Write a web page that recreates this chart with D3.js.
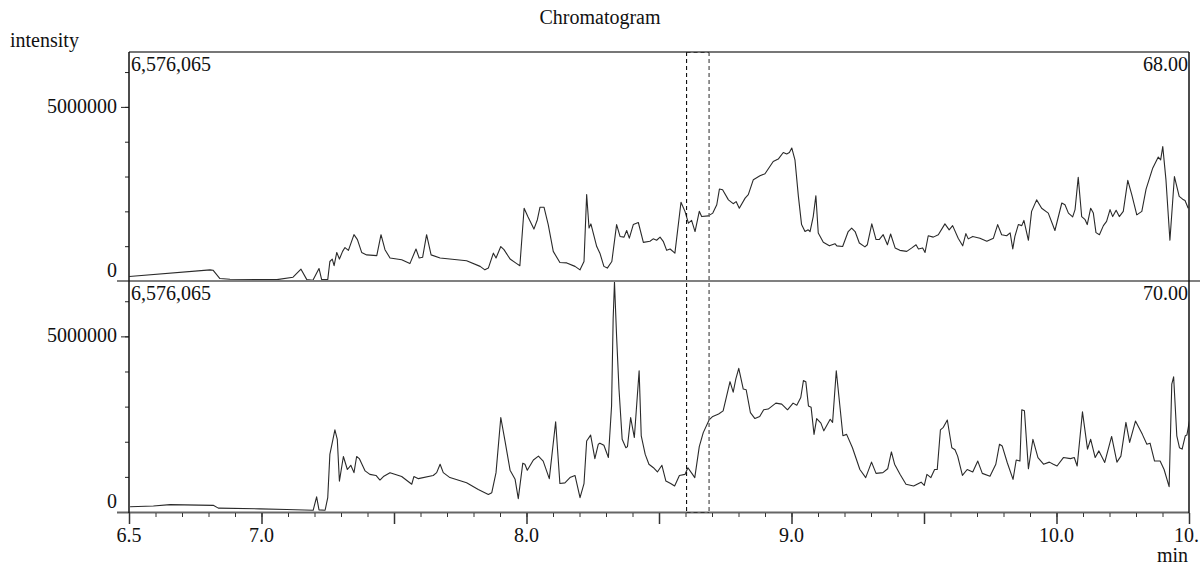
<!DOCTYPE html>
<html>
<head>
<meta charset="utf-8">
<script src="https://cdn.jsdelivr.net/npm/d3@7"></script>
<style>
  html, body { margin: 0; padding: 0; background: #fff; overflow: hidden; }
  svg { display: block; }
  text { font-family: "Liberation Serif", "Times New Roman", serif; fill: #111; }
</style>
</head>
<body>
<div id="chart"></div>
<script>
// retention time (min), intensity (millions of counts)
const topTrace = [[6.501,0.13],[6.806,0.32],[6.817,0.31],[6.843,0.07],[6.881,0.05],[7.058,0.04],[7.119,0.11],[7.149,0.34],[7.171,0.04],[7.194,0.02],[7.217,0.36],[7.227,0.04],[7.250,0.04],[7.258,0.56],[7.267,0.63],[7.274,0.44],[7.284,0.82],[7.294,0.63],[7.306,0.85],[7.315,0.96],[7.328,0.88],[7.349,1.33],[7.362,1.19],[7.378,0.82],[7.397,0.75],[7.435,0.73],[7.451,1.33],[7.466,0.90],[7.485,0.66],[7.529,0.61],[7.560,0.50],[7.583,0.92],[7.595,0.66],[7.608,0.68],[7.623,1.33],[7.640,0.75],[7.674,0.66],[7.774,0.58],[7.825,0.42],[7.843,0.32],[7.856,0.37],[7.875,0.80],[7.885,0.66],[7.903,0.99],[7.915,0.90],[7.938,0.63],[7.963,0.50],[7.975,0.44],[7.991,2.09],[8.005,1.85],[8.028,1.49],[8.041,1.76],[8.051,2.12],[8.066,2.12],[8.082,1.62],[8.101,0.85],[8.126,0.53],[8.152,0.52],[8.183,0.42],[8.202,0.32],[8.217,0.56],[8.227,2.48],[8.236,1.52],[8.243,1.64],[8.265,0.99],[8.277,0.80],[8.292,0.42],[8.305,0.37],[8.322,0.56],[8.340,1.62],[8.353,1.28],[8.368,1.26],[8.378,1.45],[8.388,1.23],[8.403,1.62],[8.422,1.68],[8.441,1.11],[8.466,1.14],[8.478,1.21],[8.491,1.17],[8.504,1.26],[8.516,1.14],[8.529,0.88],[8.542,0.92],[8.560,0.80],[8.583,2.26],[8.598,2.00],[8.611,1.66],[8.623,1.74],[8.636,1.42],[8.652,2.00],[8.661,1.85],[8.686,1.87],[8.703,1.95],[8.718,2.19],[8.728,2.64],[8.740,2.62],[8.762,2.33],[8.780,2.22],[8.791,2.28],[8.803,2.09],[8.825,2.38],[8.837,2.48],[8.856,2.91],[8.881,3.02],[8.900,3.08],[8.931,3.43],[8.950,3.50],[8.969,3.69],[8.982,3.65],[8.992,3.69],[9.001,3.82],[9.013,3.48],[9.026,2.43],[9.038,1.62],[9.051,1.42],[9.063,1.47],[9.070,1.42],[9.082,1.85],[9.092,2.45],[9.101,1.38],[9.120,1.11],[9.143,1.01],[9.164,1.07],[9.171,1.01],[9.193,0.99],[9.214,1.42],[9.227,1.52],[9.240,1.42],[9.256,1.09],[9.277,0.98],[9.286,1.04],[9.303,1.64],[9.319,1.19],[9.331,1.19],[9.346,1.33],[9.362,1.04],[9.374,1.35],[9.391,0.95],[9.409,0.88],[9.435,0.85],[9.454,0.95],[9.470,1.04],[9.479,0.92],[9.495,0.95],[9.504,0.82],[9.516,1.30],[9.535,1.26],[9.554,1.33],[9.579,1.64],[9.595,1.47],[9.608,1.59],[9.629,1.23],[9.646,1.01],[9.658,1.36],[9.667,1.21],[9.684,1.28],[9.711,1.23],[9.737,1.14],[9.762,1.23],[9.778,1.62],[9.793,1.33],[9.812,1.30],[9.825,1.38],[9.835,0.92],[9.843,1.28],[9.856,1.62],[9.869,1.59],[9.877,1.74],[9.894,1.17],[9.906,2.00],[9.925,2.33],[9.944,2.09],[9.969,1.95],[9.994,1.45],[10.020,2.24],[10.032,2.19],[10.045,1.95],[10.061,1.84],[10.070,2.05],[10.082,2.98],[10.095,1.85],[10.108,1.76],[10.116,1.62],[10.129,2.09],[10.139,1.95],[10.149,1.39],[10.162,1.33],[10.177,1.59],[10.189,1.71],[10.202,2.05],[10.212,1.85],[10.225,2.03],[10.237,1.85],[10.252,2.00],[10.269,2.89],[10.284,2.48],[10.303,1.90],[10.322,2.00],[10.338,2.64],[10.363,3.24],[10.384,3.56],[10.393,3.48],[10.401,3.86],[10.413,2.91],[10.428,1.17],[10.445,3.00],[10.463,2.43],[10.476,2.35],[10.485,2.31],[10.497,2.09]];

const bottomTrace = [[6.504,0.15],[6.592,0.17],[6.655,0.21],[6.818,0.19],[6.837,0.11],[6.994,0.09],[7.095,0.07],[7.195,0.05],[7.208,0.43],[7.217,0.06],[7.240,0.05],[7.250,0.41],[7.258,1.64],[7.277,2.34],[7.286,2.07],[7.294,0.88],[7.309,1.58],[7.324,1.21],[7.337,1.33],[7.349,1.12],[7.359,1.58],[7.369,1.52],[7.391,1.17],[7.409,1.07],[7.432,1.04],[7.447,0.91],[7.460,1.01],[7.485,1.12],[7.529,1.01],[7.567,0.79],[7.575,1.01],[7.592,0.95],[7.648,1.04],[7.661,1.12],[7.674,1.36],[7.686,1.12],[7.711,0.98],[7.774,0.83],[7.818,0.64],[7.856,0.50],[7.869,0.55],[7.885,1.12],[7.903,2.69],[7.919,2.02],[7.938,1.19],[7.957,0.93],[7.969,0.38],[7.986,1.39],[7.994,1.36],[8.003,1.19],[8.026,1.48],[8.045,1.59],[8.063,1.45],[8.086,0.95],[8.110,2.57],[8.126,0.81],[8.145,0.83],[8.164,0.98],[8.183,1.04],[8.202,0.41],[8.217,0.81],[8.227,2.02],[8.242,2.19],[8.258,1.52],[8.271,1.93],[8.277,1.96],[8.292,1.90],[8.309,1.55],[8.321,3.02],[8.327,5.50],[8.332,6.55],[8.340,5.00],[8.349,3.50],[8.361,2.07],[8.375,1.83],[8.381,1.86],[8.393,2.69],[8.407,2.12],[8.425,4.02],[8.433,2.17],[8.448,1.64],[8.462,1.36],[8.479,1.26],[8.494,1.14],[8.511,1.33],[8.526,0.88],[8.544,0.81],[8.559,0.74],[8.577,1.04],[8.598,1.07],[8.609,1.26],[8.624,1.10],[8.635,0.98],[8.652,1.86],[8.667,2.26],[8.689,2.62],[8.703,2.72],[8.725,2.79],[8.742,2.88],[8.754,3.26],[8.768,3.71],[8.780,3.41],[8.790,3.79],[8.801,4.09],[8.818,3.50],[8.829,3.48],[8.845,2.83],[8.862,2.66],[8.880,2.72],[8.895,2.91],[8.912,2.93],[8.941,3.10],[8.963,3.07],[8.985,2.91],[9.006,3.10],[9.020,3.04],[9.035,3.26],[9.045,3.74],[9.054,3.71],[9.064,3.02],[9.074,2.98],[9.085,2.21],[9.095,2.66],[9.111,2.53],[9.122,2.31],[9.146,2.64],[9.155,2.55],[9.169,4.02],[9.194,2.17],[9.208,2.21],[9.230,1.83],[9.258,1.21],[9.280,0.98],[9.302,1.42],[9.319,1.10],[9.345,1.12],[9.363,1.23],[9.377,1.71],[9.389,1.36],[9.410,1.07],[9.432,0.79],[9.461,0.74],[9.489,0.85],[9.501,0.76],[9.511,1.07],[9.526,0.98],[9.540,1.21],[9.550,1.21],[9.562,2.34],[9.573,2.41],[9.588,2.62],[9.605,1.83],[9.617,1.77],[9.627,1.59],[9.645,1.04],[9.663,1.21],[9.684,1.14],[9.703,1.45],[9.720,1.10],[9.749,1.02],[9.771,1.36],[9.785,1.93],[9.795,1.88],[9.814,1.41],[9.836,0.93],[9.848,1.48],[9.862,1.45],[9.869,2.91],[9.879,2.88],[9.894,1.23],[9.911,2.07],[9.930,1.55],[9.951,1.36],[9.973,1.42],[9.988,1.36],[10.002,1.31],[10.026,1.55],[10.053,1.52],[10.067,1.55],[10.078,1.31],[10.098,2.85],[10.117,1.79],[10.129,2.07],[10.146,1.55],[10.160,1.74],[10.182,1.41],[10.208,2.15],[10.228,1.42],[10.243,1.59],[10.262,2.55],[10.276,1.98],[10.298,2.59],[10.324,2.21],[10.341,1.93],[10.353,1.96],[10.370,1.45],[10.391,1.45],[10.406,1.21],[10.425,0.72],[10.435,3.64],[10.442,3.85],[10.454,2.17],[10.464,1.83],[10.474,1.79],[10.486,2.17],[10.492,2.19],[10.503,2.64]];

const panelNames = ['68.00', '70.00'];
const maxIntensity = 6.576065;          // millions
const maxLabel = '6,576,065';
const yMinorTicks = [0, 1, 2, 3, 4, 5, 6];
const yLabelTicks = [0, 5];
const yTickLabels = ['0', '5000000'];
const xMinorTicks = d3.range(65, 106).map(d => d / 10);
const xMajorTicks = [6.5, 7.0, 7.5, 8.0, 8.5, 9.0, 9.5, 10.0, 10.5];
const xLabelTicks = [6.5, 7.0, 8.0, 9.0, 10.0];
const xTickLabels = ['6.5', '7.0', '8.0', '9.0', '10.0'];
const xEdgeLabel = '10.';               // last label, cut by the page edge in the original
const selection = [8.604, 8.689];

const width = 1200, height = 565;
const left = 129, right = 1189;
const FONT = '20px';
const panels = [
    { top: 52, bottom: 281, data: topTrace, name: panelNames[0] },
    { top: 281, bottom: 512, data: bottomTrace, name: panelNames[1] }
];

const svg = d3.select('#chart').append('svg')
    .attr('width', width)
    .attr('height', height);

const x = d3.scaleLinear().domain([6.5, 10.5]).range([left, right]);

// title and axis names
svg.append('text')
    .attr('x', 600).attr('y', 24)
    .attr('text-anchor', 'middle')
    .style('font-size', FONT)
    .text('Chromatogram');

svg.append('text')
    .attr('x', 10).attr('y', 47)
    .style('font-size', FONT)
    .text('intensity');

svg.append('text')
    .attr('x', 1188).attr('y', 562)
    .attr('text-anchor', 'end')
    .style('font-size', FONT)
    .text('min');

panels.forEach((p, i) => {
    const y = d3.scaleLinear().domain([0, maxIntensity]).range([p.bottom, p.top]);
    const g = svg.append('g').attr('class', 'panel');

    svg.append('clipPath').attr('id', 'clip' + i)
        .append('rect')
        .attr('x', left).attr('y', p.top - 1)
        .attr('width', right - left).attr('height', p.bottom - p.top + 1);

    // y ticks
    g.append('g')
        .attr('transform', `translate(${left},0)`)
        .call(d3.axisLeft(y).tickValues(yMinorTicks).tickSize(4).tickFormat(''))
        .call(a => a.select('.domain').remove())
        .call(a => a.selectAll('line').attr('stroke', '#222'));

    g.append('g')
        .attr('transform', `translate(${left},0)`)
        .call(d3.axisLeft(y).tickValues([5]).tickSize(8).tickFormat(''))
        .call(a => a.select('.domain').remove())
        .call(a => a.selectAll('line').attr('stroke', '#222'));

    yLabelTicks.forEach((v, k) => {
        g.append('text')
            .attr('x', 117)
            .attr('y', y(v) + (v === 0 ? -4 : 6))
            .attr('text-anchor', 'end')
            .style('font-size', FONT)
            .text(yTickLabels[k]);
    });

    // trace
    const line = d3.line()
        .x(d => x(d[0]))
        .y(d => y(d[1]));

    g.append('path')
        .datum(p.data)
        .attr('clip-path', `url(#clip${i})`)
        .attr('fill', 'none')
        .attr('stroke', '#2a2a2a')
        .attr('stroke-width', 1.1)
        .attr('stroke-linejoin', 'round')
        .attr('d', line);

    // labels inside panel
    g.append('text')
        .attr('x', left + 2).attr('y', p.top + 19)
        .style('font-size', FONT)
        .text(maxLabel);

    g.append('text')
        .attr('x', right - 1).attr('y', p.top + 19)
        .attr('text-anchor', 'end')
        .style('font-size', FONT)
        .text(p.name);
});

// frame lines
svg.append('line')
    .attr('x1', left).attr('x2', right)
    .attr('y1', 52).attr('y2', 52)
    .attr('stroke', '#777').attr('stroke-width', 2);

svg.append('line')
    .attr('x1', 117).attr('x2', 1200)
    .attr('y1', 281).attr('y2', 281)
    .attr('stroke', '#808080').attr('stroke-width', 2);

svg.append('line')
    .attr('x1', 117).attr('x2', right)
    .attr('y1', 512.5).attr('y2', 512.5)
    .attr('stroke', '#666').attr('stroke-width', 2);

svg.append('line')
    .attr('x1', left).attr('x2', left)
    .attr('y1', 52).attr('y2', 513)
    .attr('stroke', '#111').attr('stroke-width', 1.5);

svg.append('line')
    .attr('x1', right).attr('x2', right)
    .attr('y1', 52).attr('y2', 513)
    .attr('stroke', '#111').attr('stroke-width', 1.5);

// x axis ticks
svg.append('g')
    .attr('transform', 'translate(0,513)')
    .call(d3.axisBottom(x).tickValues(xMinorTicks).tickSize(4).tickFormat(''))
    .call(a => a.select('.domain').remove())
    .call(a => a.selectAll('line').attr('stroke', '#333'));

svg.append('g')
    .attr('transform', 'translate(0,513)')
    .call(d3.axisBottom(x).tickValues(xMajorTicks).tickSize(11).tickFormat(''))
    .call(a => a.select('.domain').remove())
    .call(a => a.selectAll('line').attr('stroke', '#333').attr('stroke-width', 1.5));

xLabelTicks.forEach((v, k) => {
    svg.append('text')
        .attr('x', x(v)).attr('y', 542)
        .attr('text-anchor', 'middle')
        .style('font-size', FONT)
        .text(xTickLabels[k]);
});

svg.append('text')
    .attr('x', 1199).attr('y', 542)
    .attr('text-anchor', 'end')
    .style('font-size', FONT)
    .text(xEdgeLabel);

// selected retention window
const x0 = x(selection[0]), x1 = x(selection[1]);
svg.append('line')
    .attr('x1', x0).attr('x2', x0).attr('y1', 52).attr('y2', 512)
    .attr('stroke', '#111').attr('stroke-width', 1.1).attr('stroke-dasharray', '4,3');
svg.append('line')
    .attr('x1', x1).attr('x2', x1).attr('y1', 52).attr('y2', 512)
    .attr('stroke', '#666').attr('stroke-width', 1.4).attr('stroke-dasharray', '4,3');
svg.append('line')
    .attr('x1', x0).attr('x2', x1).attr('y1', 52.5).attr('y2', 52.5)
    .attr('stroke', '#333').attr('stroke-width', 1.1).attr('stroke-dasharray', '4,3');
svg.append('line')
    .attr('x1', x0).attr('x2', x1).attr('y1', 512.5).attr('y2', 512.5)
    .attr('stroke', '#333').attr('stroke-width', 1.1).attr('stroke-dasharray', '4,3');
</script>
</body>
</html>
